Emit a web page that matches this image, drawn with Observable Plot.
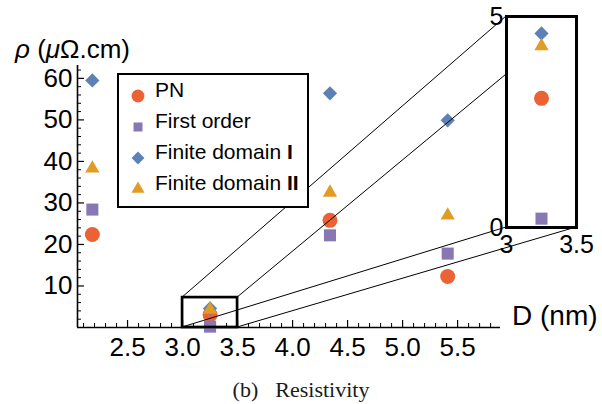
<!DOCTYPE html>
<html><head><meta charset="utf-8">
<script src="https://cdn.jsdelivr.net/npm/d3@7"></script>
<script src="https://cdn.jsdelivr.net/npm/@observablehq/plot@0.6"></script>
<style>
body{margin:0;background:white;}
#wrap{position:relative;width:602px;height:404px;overflow:hidden;background:white;}
#wrap svg{position:absolute;}
#caption{position:absolute;left:0;width:602px;top:375px;line-height:30px;text-align:center;font-family:"Liberation Serif","Times New Roman",serif;font-size:22px;white-space:pre;color:#1a1a1a;}
#caption span{margin-left:17px;}
</style></head>
<body><div id="wrap"></div>
<script>
// ---- data ----
const D = [2.18, 3.25, 4.34, 5.41];
const pn = [22.4, 3.06, 25.8, 12.3];
const firstOrder = [28.4, 0.21, 22.2, 17.8];
const finiteI = [59.5, 4.6, 56.4, 49.9];
const finiteII = [38.3, 4.3, 32.5, 27.0];
const seriesNames = ["PN", "First order", "Finite domain I", "Finite domain II"];
const seriesColors = ["#EB6235", "#8778B3", "#5E81B5", "#E19C24"];
const seriesSymbols = ["circle", "square", "diamond2", "triangle"];
const xTicks = [2.5, 3.0, 3.5, 4.0, 4.5, 5.0, 5.5];
const xMinor = [2.1,2.2,2.3,2.4,2.6,2.7,2.8,2.9,3.1,3.2,3.3,3.4,3.6,3.7,3.8,3.9,4.1,4.2,4.3,4.4,4.6,4.7,4.8,4.9,5.1,5.2,5.3,5.4,5.6,5.7,5.8];
const yTicks = [10, 20, 30, 40, 50, 60];
const yMinor = [2,4,6,8,12,14,16,18,22,24,26,28,32,34,36,38,42,44,46,48,52,54,56,58,62];
const xDomain = [2.045, 5.89];
const yDomain = [0, 63.1];
const zoomX = [3.0, 3.5];
const zoomY = [0, 7.2];
const insetYDomain = [0, 5];
const insetXTicks = [3, 3.5];
const insetYTicks = [0, 5];

const values = [pn, firstOrder, finiteI, finiteII];
const rows = seriesNames.flatMap((name, s) => D.map((d, i) => ({D: d, rho: values[s][i], series: name})));
const symR = {"circle": 7.5, "square": 6.8, "diamond2": 6.4, "triangle": 5.3};

const font = "Liberation Sans, Arial, Helvetica, sans-serif";

function dots(data) {
  return seriesNames.map((name, s) => Plot.dot(data.filter(r => r.series === name), {
    x: "D", y: "rho", symbol: seriesSymbols[s], fill: seriesColors[s], stroke: "none", r: symR[seriesSymbols[s]]
  }));
}

const main = Plot.plot({
  width: 602, height: 362,
  marginLeft: 77, marginRight: 102, marginTop: 65, marginBottom: 35,
  x: {domain: xDomain},
  y: {domain: yDomain},
  style: {fontFamily: font, background: "white", overflow: "visible", color: "black"},
  marks: [
    Plot.axisX({ticks: xMinor, tickSize: -4, tickFormat: () => "", label: null, strokeWidth: 1}),
    Plot.axisX({ticks: xTicks, tickSize: -7, tickPadding: 17, tickFormat: d => d.toFixed(1), label: null, fontSize: 26, strokeWidth: 1.2}),
    Plot.axisY({ticks: yMinor, tickSize: -4, tickFormat: () => "", label: null, strokeWidth: 1}),
    Plot.axisY({ticks: yTicks, tickSize: -7, tickPadding: 12, tickFormat: d => String(d), label: null, fontSize: 26, strokeWidth: 1.2}),
    Plot.ruleY([yDomain[0]], {strokeWidth: 1.6}),
    Plot.ruleX([xDomain[0]], {strokeWidth: 1.6}),
    ...dots(rows),
    Plot.rect([{x1: zoomX[0], x2: zoomX[1], y1: zoomY[0], y2: zoomY[1]}], {x1: "x1", x2: "x2", y1: "y1", y2: "y2", fill: "none", stroke: "black", strokeWidth: 2.7})
  ]
});

const inset = Plot.plot({
  width: 122, height: 262,
  marginLeft: 26, marginRight: 26, marginTop: 16, marginBottom: 35,
  x: {domain: zoomX},
  y: {domain: insetYDomain},
  style: {fontFamily: font, background: "transparent", overflow: "visible", color: "black"},
  marks: [
    Plot.frame({fill: "white", stroke: "none"}),
    ...dots(rows.filter(r => r.D >= zoomX[0] && r.D <= zoomX[1])),
    Plot.frame({stroke: "black", strokeWidth: 3}),
    Plot.axisX({ticks: insetXTicks, tickSize: 0, tickPadding: 8, tickFormat: d => String(d), label: null, fontSize: 25}),
    Plot.axisY({ticks: insetYTicks, tickSize: 0, tickPadding: 3, tickFormat: d => String(d), label: null, fontSize: 25})
  ]
});

const wrap = document.getElementById("wrap");
wrap.appendChild(main);
main.style.left = "0px"; main.style.top = "0px";
const insetLeft = 480, insetTop = 0;
wrap.appendChild(inset);
inset.style.left = insetLeft + "px"; inset.style.top = insetTop + "px";

const svg = d3.select(main);
const sx = main.scale("x"), sy = main.scale("y");
const ix = inset.scale("x"), iy = inset.scale("y");

// connector lines from zoom box corners to inset corners
const corners = [[zoomX[0], 1], [zoomX[1], 1], [zoomX[0], 0], [zoomX[1], 0]];
svg.append("g").selectAll("line").data(corners).join("line")
  .attr("x1", d => sx.apply(d[0]))
  .attr("y1", d => sy.apply(d[1] ? zoomY[1] : zoomY[0]))
  .attr("x2", d => insetLeft + ix.apply(d[0]))
  .attr("y2", d => insetTop + iy.apply(d[1] ? insetYDomain[1] : insetYDomain[0]))
  .attr("stroke", "black").attr("stroke-width", 1);

// axis titles
const yt = svg.append("text").attr("x", 15).attr("y", 58).attr("text-anchor", "start")
  .attr("font-size", 26).attr("font-family", font).attr("fill", "black");
yt.append("tspan").attr("font-style", "italic").text("ρ");
yt.append("tspan").text(" (");
yt.append("tspan").attr("font-style", "italic").text("μ");
yt.append("tspan").text("Ω.cm)");
svg.append("text").attr("x", 512).attr("y", 325).attr("text-anchor", "start")
  .attr("font-size", 28).attr("font-family", font).attr("fill", "black").text("D (nm)");

// legend
const lg = svg.append("g").attr("font-family", font).attr("font-size", 21).attr("text-anchor", "start");
lg.append("rect").attr("x", 118).attr("y", 74).attr("width", 190).attr("height", 133)
  .attr("fill", "white").attr("stroke", "black").attr("stroke-width", 2);
const legSize = {"circle": 130, "square": 81, "diamond2": 105, "triangle": 75};
const legSym = {"circle": d3.symbolCircle, "square": d3.symbolSquare, "diamond2": d3.symbolDiamond2, "triangle": d3.symbolTriangle};
seriesNames.forEach((name, s) => {
  const base = 97 + 31 * s;
  lg.append("path").attr("transform", `translate(138,${base - 1})`)
    .attr("d", d3.symbol(legSym[seriesSymbols[s]], legSize[seriesSymbols[s]])())
    .attr("fill", seriesColors[s]);
  const t = lg.append("text").attr("x", 155).attr("y", base).attr("fill", "black").attr("text-anchor", "start");
  const m = name.match(/^(Finite domain )(I+)$/);
  if (m) {
    t.append("tspan").text(m[1]);
    t.append("tspan").attr("font-weight", "bold").text(m[2]);
  } else t.text(name);
});

const cap = document.createElement("div");
cap.id = "caption";
cap.innerHTML = "(b)<span>Resistivity</span>";
wrap.appendChild(cap);
</script>
</body></html>
